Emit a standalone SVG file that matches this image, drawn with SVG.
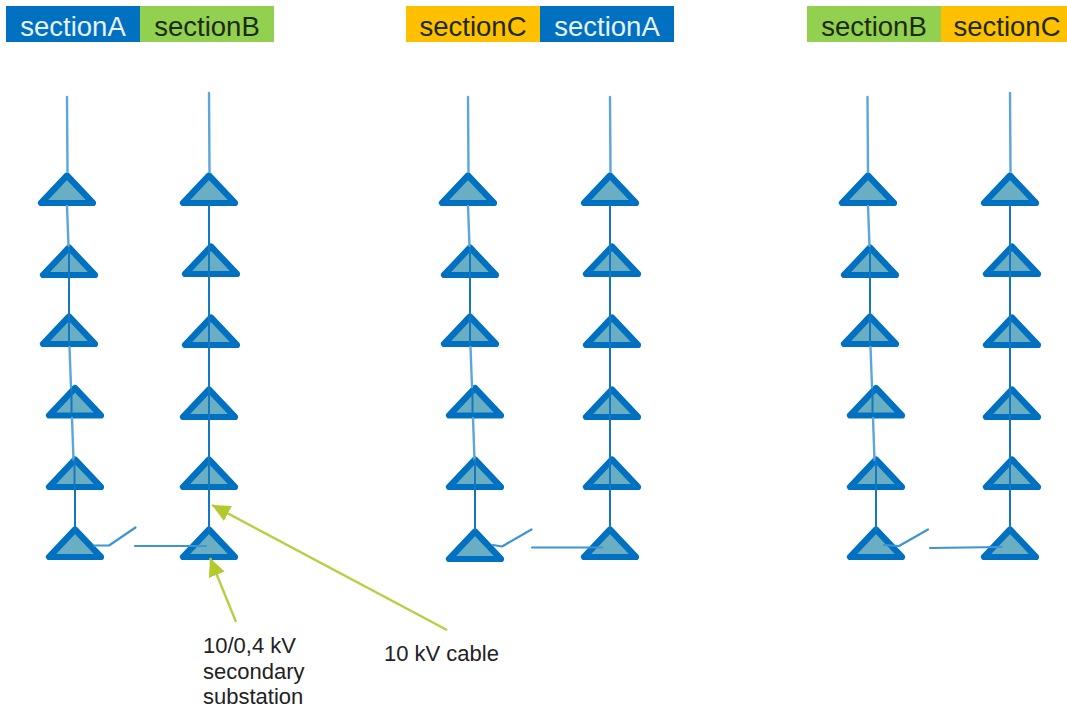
<svg xmlns="http://www.w3.org/2000/svg" width="1067" height="708" viewBox="0 0 1067 708">
<style>
text{font-family:"Liberation Sans",Arial,sans-serif}
.h{font-size:27.5px;text-anchor:middle}
.w{fill:#e8f2fa}
.d{fill:#1c2a10}
.l{font-size:22px;fill:#222}
.c{fill:none;stroke:#1478c0;stroke-width:2;stroke-linecap:round}
.f{fill:none;stroke:#5ba6dc;stroke-width:2.4;stroke-linecap:round}
.s{fill:none;stroke:#3f95d4;stroke-width:2.2;stroke-linecap:round;stroke-linejoin:round}
.a{fill:none;stroke:#bccd45;stroke-width:2.4;marker-end:url(#ah)}
.t{fill:#6aaec4;stroke:#0070c0;stroke-width:6.2;stroke-linejoin:round}
</style>
<defs>
<marker id="ah" markerUnits="userSpaceOnUse" markerWidth="20" markerHeight="20" refX="18" refY="8.500" orient="auto"><path d="M0 0L18 8.500L0 17Z" fill="#b5c92f"/></marker>
<path id="tri" class="t" d="M0-27.500L-26 0L26 0Z"/>
</defs>
<rect width="1067" height="708" fill="#fff"/>
<g id="headers">
<g id="hdr1"><rect x="6" y="6" width="134" height="36" fill="#0070c0"/><text class="h w" x="73" y="36">sectionA</text></g>
<g id="hdr2"><rect x="140" y="6" width="134" height="36" fill="#92d050"/><text class="h d" x="207" y="36">sectionB</text></g>
<g id="hdr3"><rect x="406" y="6" width="134" height="36" fill="#ffc000"/><text class="h d" x="473" y="36">sectionC</text></g>
<g id="hdr4"><rect x="540" y="6" width="134" height="36" fill="#0070c0"/><text class="h w" x="607" y="36">sectionA</text></g>
<g id="hdr5"><rect x="807" y="6" width="134" height="36" fill="#92d050"/><text class="h d" x="874" y="36">sectionB</text></g>
<g id="hdr6"><rect x="941" y="6" width="126" height="36" fill="#ffc000"/><text class="h d" x="1007" y="36">sectionC</text></g>
</g>
<g id="nodes">
<g id="n1"><use href="#tri" x="67" y="203"/></g><g id="n2"><use href="#tri" x="69" y="275"/></g><g id="n3"><use href="#tri" x="69" y="344"/></g><g id="n4"><use href="#tri" x="75" y="415.500"/></g><g id="n5"><use href="#tri" x="75" y="487"/></g><g id="n6"><use href="#tri" x="75" y="557"/></g>
<g id="n7"><use href="#tri" x="209" y="203"/></g><g id="n8"><use href="#tri" x="211" y="274"/></g><g id="n9"><use href="#tri" x="211" y="345"/></g><g id="n10"><use href="#tri" x="209" y="417"/></g><g id="n11"><use href="#tri" x="209" y="487"/></g><g id="n12"><use href="#tri" x="209" y="557"/></g>
<g id="n13"><use href="#tri" x="468" y="203"/></g><g id="n14"><use href="#tri" x="470" y="275"/></g><g id="n15"><use href="#tri" x="470" y="344"/></g><g id="n16"><use href="#tri" x="475" y="415.500"/></g><g id="n17"><use href="#tri" x="475" y="487"/></g><g id="n18"><use href="#tri" x="475" y="559"/></g>
<g id="n19"><use href="#tri" x="610" y="203"/></g><g id="n20"><use href="#tri" x="612" y="274"/></g><g id="n21"><use href="#tri" x="612" y="345"/></g><g id="n22"><use href="#tri" x="612" y="417"/></g><g id="n23"><use href="#tri" x="612" y="487"/></g><g id="n24"><use href="#tri" x="610" y="557"/></g>
<g id="n25"><use href="#tri" x="868" y="203"/></g><g id="n26"><use href="#tri" x="870" y="275"/></g><g id="n27"><use href="#tri" x="870" y="344"/></g><g id="n28"><use href="#tri" x="876" y="415.500"/></g><g id="n29"><use href="#tri" x="876" y="487"/></g><g id="n30"><use href="#tri" x="876" y="557"/></g>
<g id="n31"><use href="#tri" x="1010" y="203"/></g><g id="n32"><use href="#tri" x="1012" y="274"/></g><g id="n33"><use href="#tri" x="1012" y="345"/></g><g id="n34"><use href="#tri" x="1012" y="417"/></g><g id="n35"><use href="#tri" x="1012" y="487"/></g><g id="n36"><use href="#tri" x="1010" y="557"/></g>
</g>
<g id="connectors">
<path class="f" d="M67 97L67.500 172M67 206L68.500 246M69.500 347L71 387M72 418L73.500 460"/>
<path class="f" d="M468 97L468.500 172M468 206L469.500 246M470.500 347L472 387M473 418L474.500 460"/>
<path class="f" d="M867.500 97L868 172M868 206L869.500 246M870.500 347L872 387M873 418L874.500 460"/>
<path class="f" d="M209 93L209.500 172M610 97L610.500 172M1010 93L1010.500 172"/>
<path class="c" d="M69 248V342M71.500 389V413M74.500 460V485M75 487V530"/>
<path class="c" d="M470 248V342M472.500 389V413M475 460V530"/>
<path class="c" d="M870 248V342M872.500 389V413M876 460V530"/>
<path class="c" d="M209 205V530M610 205V530M1010 205V530"/>
<path class="s" d="M135.500 527.500L109 545.500H94M135 546H206"/>
<path class="s" d="M531.500 529.500L502 546.500L493 545M532 547.500H602"/>
<path class="s" d="M928 529.500L899 546L884 545M930 548L1002 547"/>
<path class="a" d="M236 622L210 558"/>
<path class="a" d="M447 630L212 505"/>
</g>
<g id="labels">
<text class="l" x="203" y="653">10/0,4 kV</text>
<text class="l" x="203" y="679">secondary</text>
<text class="l" x="203" y="704">substation</text>
<text class="l" x="384" y="661">10 kV cable</text>
</g>
</svg>
